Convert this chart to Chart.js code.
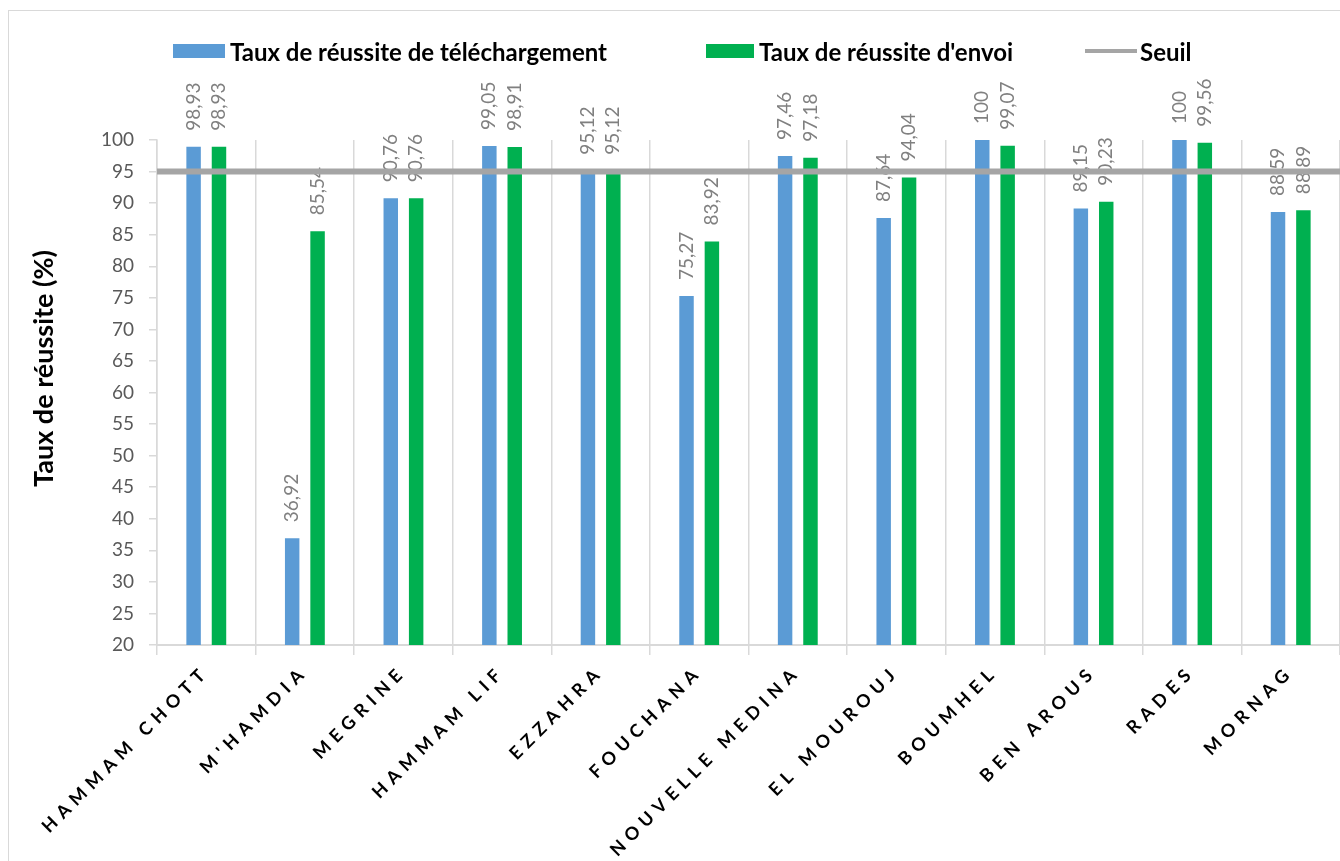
<!DOCTYPE html>
<html>
<head>
<meta charset="utf-8">
<script src="https://cdn.jsdelivr.net/npm/chart.js@4.4.1/dist/chart.umd.min.js"></script>
<style>
  html, body { margin: 0; padding: 0; background: #fff; }
  #wrap { position: relative; width: 1340px; height: 861px; overflow: hidden; }
  #frame { position: absolute; left: 8px; top: 10px; width: 1400px; height: 900px; border: 1.5px solid #d9d9d9; }
  #chart { position: absolute; left: 0; top: 0; }
  .leg { position: absolute; top: 36px; height: 30px; display: flex; align-items: center;
         font: bold 24px Lato, "Open Sans", sans-serif; color: #000; white-space: nowrap; }
  .leg .sw { display: inline-block; margin-right: 5px; }
</style>
</head>
<body>
<div id="wrap">
  <div id="frame"></div>
  <canvas id="chart" width="1340" height="861"></canvas>
  <div class="leg" style="left:173px"><span class="sw" style="width:52px;height:14px;background:#5B9BD5"></span>Taux de réussite de téléchargement</div>
  <div class="leg" style="left:706px"><span class="sw" style="width:48px;height:14px;background:#00B050"></span>Taux de réussite d'envoi</div>
  <div class="leg" style="left:1085px"><span class="sw" style="width:52px;height:4px;background:#A5A5A5;margin-right:3px"></span>Seuil</div>
</div>
<script>
const categories = ['HAMMAM CHOTT', "M'HAMDIA", 'MEGRINE', 'HAMMAM LIF', 'EZZAHRA', 'FOUCHANA',
  'NOUVELLE MEDINA', 'EL MOUROUJ', 'BOUMHEL', 'BEN AROUS', 'RADES', 'MORNAG'];
const telechargement = [98.93, 36.92, 90.76, 99.05, 95.12, 75.27, 97.46, 87.64, 100, 89.15, 100, 88.59];
const envoi = [98.93, 85.54, 90.76, 98.91, 95.12, 83.92, 97.18, 94.04, 99.07, 90.23, 99.56, 88.89];
const seuil = 95;
const yMin = 20, yMax = 100, yStep = 5;

const fmt = (v) => String(v).replace('.', ',');

// value labels, drawn before the threshold line so the line sits on top
const valueLabels = {
  id: 'valueLabels',
  beforeDatasetDraw(chart, args) {
    if (args.index !== 2) return;
    const ctx = chart.ctx;
    [0, 1].forEach((di) => {
      const ds = chart.data.datasets[di];
      chart.getDatasetMeta(di).data.forEach((el, i) => {
        ctx.save();
        ctx.translate(el.x, el.y - 16);
        ctx.rotate(-Math.PI / 2);
        ctx.font = '19px Lato, "Open Sans", sans-serif';
        ctx.fillStyle = '#808080';
        ctx.textAlign = 'left';
        ctx.textBaseline = 'middle';
        ctx.fillText(fmt(ds.data[i]), 0, 0);
        ctx.restore();
      });
    });
  }
};

// spaced capitals on the category axis, y title sitting a bit higher
const axisTweaks = {
  id: 'axisTweaks',
  beforeDraw(chart) {
    const sx = chart.scales.x;
    if (sx && !sx._spaced) {
      const orig = sx.drawLabels;
      sx.drawLabels = function (area) {
        const c = this.ctx;
        c.save();
        c.letterSpacing = '6px';
        orig.call(this, area);
        c.restore();
      };
      sx._spaced = true;
    }
    const sy = chart.scales.y;
    if (sy && !sy._moved) {
      const origT = sy.drawTitle;
      sy.drawTitle = function () {
        const c = this.ctx;
        c.save();
        c.translate(0, -24);
        origT.call(this);
        c.restore();
      };
      sy._moved = true;
    }
  }
};

new Chart(document.getElementById('chart'), {
  data: {
    labels: categories,
    datasets: [
      { type: 'bar', indexAxis: 'x', label: 'Taux de réussite de téléchargement', data: telechargement,
        xAxisID: 'x', yAxisID: 'y',
        backgroundColor: '#5B9BD5', barPercentage: 0.57, categoryPercentage: 0.515, order: 1 },
      { type: 'bar', indexAxis: 'x', label: "Taux de réussite d'envoi", data: envoi,
        xAxisID: 'x', yAxisID: 'y',
        backgroundColor: '#00B050', barPercentage: 0.57, categoryPercentage: 0.515, order: 1 },
      { type: 'line', indexAxis: 'x', label: 'Seuil', xAxisID: 'xl', yAxisID: 'y',
        data: [{ x: 0, y: seuil }, { x: categories.length, y: seuil }],
        borderColor: '#A5A5A5', borderWidth: 6, pointRadius: 0, order: 0 }
    ]
  },
  options: {
    // chart-level 'y' keeps the hidden threshold axis from being counted as a second bar group
    indexAxis: 'y',
    responsive: false,
    animation: false,
    layout: { autoPadding: false, padding: { top: 140, left: 0, right: 0, bottom: 0 } },
    plugins: { legend: { display: false }, tooltip: { enabled: false } },
    scales: {
      x: {
        type: 'category',
        position: 'bottom',
        offset: true,
        afterFit: (s) => { s.height = 216; },
        grid: { offset: true, color: '#d9d9d9', lineWidth: 1.5, tickLength: 10, drawOnChartArea: true },
        border: { color: '#d9d9d9', width: 2 },
        ticks: { minRotation: 45, maxRotation: 45, autoSkip: false, padding: 6, color: '#000',
          font: { family: 'Lato, "Open Sans", sans-serif', size: 18, weight: 'bold' } }
      },
      xl: { type: 'linear', position: 'bottom', min: 0, max: categories.length, display: false },
      y: {
        type: 'linear',
        position: 'left',
        min: yMin, max: yMax,
        afterFit: (s) => { s.width = 157; },
        grid: { drawOnChartArea: false, color: '#d9d9d9', lineWidth: 1.5, tickLength: 8 },
        border: { color: '#d9d9d9', width: 1.5 },
        ticks: { stepSize: yStep, padding: 15, color: '#595959',
          font: { family: 'Lato, "Open Sans", sans-serif', size: 19 } },
        title: { display: true, text: 'Taux de réussite (%)', color: '#000', padding: { top: 28, bottom: 0 },
          font: { family: 'Lato, "Open Sans", sans-serif', size: 27, weight: 'bold' } }
      }
    }
  },
  plugins: [valueLabels, axisTweaks]
});
</script>
</body>
</html>
